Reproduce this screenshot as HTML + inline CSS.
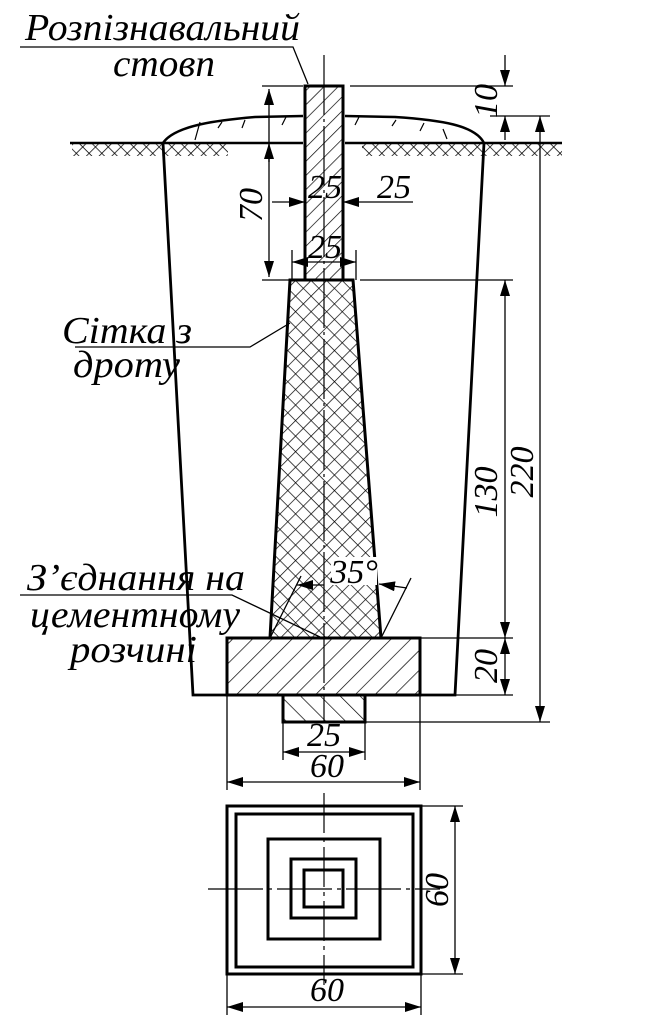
<!DOCTYPE html>
<html><head><meta charset="utf-8"><style>
html,body{margin:0;padding:0;background:#fff}
svg{display:block}
text{font-family:"Liberation Serif",serif;font-style:italic;fill:#000}
</style></head><body>
<svg width="659" height="1024" viewBox="0 0 659 1024" xmlns="http://www.w3.org/2000/svg">
<defs>
<pattern id="h1" width="10" height="10" patternUnits="userSpaceOnUse" patternTransform="rotate(45)">
<line x1="0" y1="0" x2="0" y2="10" stroke="#000" stroke-width="1.4"/></pattern>
<pattern id="h2" width="14" height="14" patternUnits="userSpaceOnUse" patternTransform="rotate(45)">
<line x1="0" y1="0" x2="0" y2="14" stroke="#000" stroke-width="1.4"/></pattern>
<pattern id="h3" width="14" height="14" patternUnits="userSpaceOnUse" patternTransform="rotate(-45)">
<line x1="0" y1="0" x2="0" y2="14" stroke="#000" stroke-width="1.4"/></pattern>
<pattern id="mesh" width="11" height="11" patternUnits="userSpaceOnUse" patternTransform="rotate(45)">
<line x1="0" y1="0" x2="0" y2="11" stroke="#000" stroke-width="1.4"/><line x1="0" y1="0" x2="11" y2="0" stroke="#000" stroke-width="1.4"/></pattern>
<pattern id="soil" width="9" height="9" patternUnits="userSpaceOnUse" patternTransform="rotate(45)">
<line x1="0" y1="0" x2="0" y2="9" stroke="#000" stroke-width="1.5"/><line x1="0" y1="0" x2="9" y2="0" stroke="#000" stroke-width="1.5"/></pattern>
<marker id="a" viewBox="0 0 16 10" refX="16" refY="5" markerWidth="16" markerHeight="10" orient="auto-start-reverse" markerUnits="userSpaceOnUse"><path d="M0,0 L16,5 L0,10 Z" fill="#000"/></marker>
</defs>
<g stroke="#000" fill="none">
<rect x="72" y="143" width="156" height="13" fill="url(#soil)" stroke="none"/>
<rect x="362" y="143" width="200" height="13" fill="url(#soil)" stroke="none"/>
<line x1="70" y1="143" x2="303" y2="143" stroke-width="2.5"/>
<line x1="345" y1="143" x2="562" y2="143" stroke-width="2.5"/>
<path d="M163,143 C175,125 220,120 255,117 L303,116" stroke-width="2.5"/>
<path d="M345,116 L395,117 C440,120 475,125 484,143" stroke-width="2.5"/>
<path d="M195,140 l5,-18 M218,128 l4,-6 M242,128 l3,-8 M282,125 l4,-8 M355,125 l4,-8 M392,126 l4,-6 M420,131 l4,-8 M447,139 l-4,-10" stroke-width="1.2"/>
<path d="M163,143 L193,695 L455,695 L484,143" stroke-width="2.8"/>
<rect x="305" y="86" width="38" height="194" fill="url(#h1)" stroke-width="3"/>
<path d="M290,280 L353,280 L381,638 L270,638 Z" fill="url(#mesh)" stroke-width="3"/>
<rect x="227" y="638" width="193" height="57" fill="url(#h2)" stroke-width="3"/>
<rect x="283" y="695" width="82" height="27" fill="url(#h3)" stroke-width="3"/>
<line x1="324" y1="55" x2="324" y2="722" stroke-width="1.2" stroke-dasharray="60,4,3,4"/>
<g stroke-width="1.3">
<line x1="262" y1="86" x2="303" y2="86"/>
<line x1="350" y1="86" x2="513" y2="86"/>
<line x1="490" y1="116" x2="550" y2="116"/>
<line x1="262" y1="280" x2="300" y2="280"/>
<line x1="360" y1="280" x2="513" y2="280"/>
<line x1="269" y1="89" x2="269" y2="277" marker-start="url(#a)" marker-end="url(#a)"/>
<line x1="269" y1="143" x2="269" y2="162" marker-start="url(#a)"/>
<line x1="505" y1="55" x2="505" y2="86" marker-end="url(#a)"/>
<line x1="505" y1="140" x2="505" y2="116" marker-end="url(#a)"/>
<line x1="540" y1="116" x2="540" y2="722" marker-start="url(#a)" marker-end="url(#a)"/>
<line x1="272" y1="202" x2="305" y2="202" marker-end="url(#a)"/>
<line x1="413" y1="202" x2="343" y2="202" marker-end="url(#a)"/>
<line x1="292" y1="250" x2="292" y2="280"/>
<line x1="356" y1="250" x2="356" y2="280"/>
<line x1="292" y1="262" x2="356" y2="262" marker-start="url(#a)" marker-end="url(#a)"/>
<line x1="505" y1="280" x2="505" y2="638" marker-start="url(#a)" marker-end="url(#a)"/>
<line x1="505" y1="638" x2="505" y2="695" marker-start="url(#a)" marker-end="url(#a)"/>
<line x1="420" y1="638" x2="513" y2="638"/>
<line x1="455" y1="695" x2="513" y2="695"/>
<line x1="365" y1="722" x2="550" y2="722"/>
<line x1="283" y1="722" x2="283" y2="760"/>
<line x1="365" y1="722" x2="365" y2="760"/>
<line x1="283" y1="752" x2="365" y2="752" marker-start="url(#a)" marker-end="url(#a)"/>
<line x1="227" y1="695" x2="227" y2="790"/>
<line x1="420" y1="695" x2="420" y2="790"/>
<line x1="227" y1="782" x2="420" y2="782" marker-start="url(#a)" marker-end="url(#a)"/>
<line x1="270" y1="638" x2="301" y2="576"/>
<line x1="381" y1="638" x2="411" y2="578"/>
<line x1="324" y1="585" x2="297" y2="585" marker-end="url(#a)"/>
<line x1="407" y1="588" x2="379" y2="584" marker-end="url(#a)"/>
<polyline points="20,47 293,47 308,84"/>
<polyline points="75,347 250,347 290,323"/>
<polyline points="20,595 232,595 320,637"/>
</g>
<rect x="227" y="806" width="194" height="168" stroke-width="3"/>
<rect x="236" y="814" width="177" height="153" stroke-width="3"/>
<rect x="268" y="839" width="112" height="100" stroke-width="3"/>
<rect x="291" y="859" width="65" height="59" stroke-width="3"/>
<rect x="304" y="870" width="39" height="37" stroke-width="3"/>
<line x1="324" y1="793" x2="324" y2="985" stroke-width="1.2" stroke-dasharray="40,5,4,5"/>
<line x1="208" y1="889" x2="440" y2="889" stroke-width="1.2" stroke-dasharray="55,5,4,5"/>
<g stroke-width="1.3">
<line x1="421" y1="806" x2="463" y2="806"/>
<line x1="421" y1="974" x2="463" y2="974"/>
<line x1="455" y1="806" x2="455" y2="974" marker-start="url(#a)" marker-end="url(#a)"/>
<line x1="227" y1="974" x2="227" y2="1015"/>
<line x1="421" y1="974" x2="421" y2="1015"/>
<line x1="227" y1="1007" x2="421" y2="1007" marker-start="url(#a)" marker-end="url(#a)"/>
</g>
</g>
<rect x="331" y="557" width="46" height="28" fill="#fff"/>
<g font-size="38">
<text x="25" y="40" textLength="275" lengthAdjust="spacingAndGlyphs">Розпізнавальний</text>
<text x="113" y="76" textLength="102" lengthAdjust="spacingAndGlyphs">стовп</text>
<text x="62" y="343" textLength="130" lengthAdjust="spacingAndGlyphs">Сітка з</text>
<text x="73" y="377" textLength="107" lengthAdjust="spacingAndGlyphs">дроту</text>
<text x="27" y="590" textLength="218" lengthAdjust="spacingAndGlyphs">З’єднання на</text>
<text x="30" y="627" textLength="210" lengthAdjust="spacingAndGlyphs">цементному</text>
<text x="70" y="662" textLength="127" lengthAdjust="spacingAndGlyphs">розчині</text>
</g>
<g font-size="34" text-anchor="middle">
<text x="325" y="198">25</text>
<text x="394" y="198">25</text>
<text x="325" y="258">25</text>
<text x="354" y="583">35°</text>
<text x="324" y="746">25</text>
<text x="327" y="777">60</text>
<text x="327" y="1001">60</text>
<text transform="translate(262,205) rotate(-90)">70</text>
<text transform="translate(497,101) rotate(-90)">10</text>
<text transform="translate(497,492) rotate(-90)">130</text>
<text transform="translate(533,472) rotate(-90)">220</text>
<text transform="translate(497,666) rotate(-90)">20</text>
<text transform="translate(448,890) rotate(-90)">60</text>
</g>
</svg>
</body></html>
